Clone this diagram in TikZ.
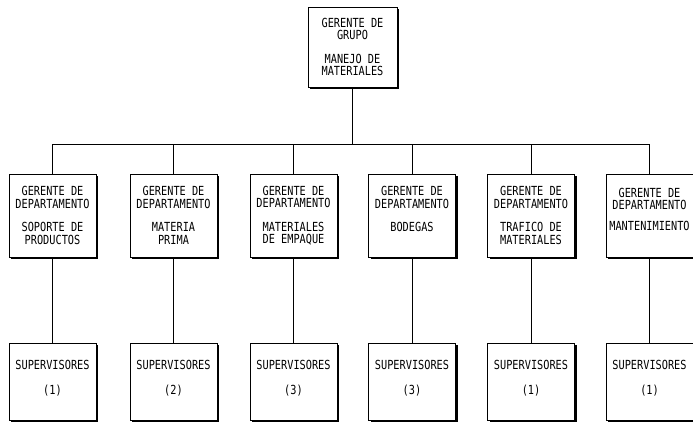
\documentclass[tikz,border=0pt]{standalone}
\usepackage{fontspec}
\newfontfamily\dotfont[FakeStretch=0.82]{DejaVu Sans Mono}
\usetikzlibrary{shadows}
\begin{document}
\begin{tikzpicture}[x=1pt,y=-1pt,
  box/.style={draw, line width=1pt, fill=white, inner sep=0pt, align=center,
    font=\dotfont\fontsize{12.5}{12.5}\selectfont,
    drop shadow={shadow xshift=2pt, shadow yshift=-2pt, opacity=1, fill=black}},
  topbox/.style={box, minimum width=89pt, minimum height=80pt},
  deptbox/.style={box, minimum width=87pt, minimum height=83pt},
  supbox/.style={box, minimum width=87pt, minimum height=77pt},
  link/.style={line width=0.9pt}]
\useasboundingbox (0,0) rectangle (693,423);
\node[topbox] (top) at (352.5,47) {GERENTE DE\\GRUPO\\[11pt]MANEJO DE\\MATERIALES};
\coordinate (bus) at (352.5,144);
\node[deptbox] (d1) at (52.5,215.5) {GERENTE DE\\DEPARTAMENTO\\[11pt]SOPORTE DE\\PRODUCTOS};
\node[deptbox] (d2) at (173.5,215.5) {GERENTE DE\\DEPARTAMENTO\\[11pt]MATERIA\\PRIMA};
\node[deptbox] (d3) at (293.5,215.5) {GERENTE DE\\DEPARTAMENTO\\[11pt]MATERIALES\\DE EMPAQUE};
\node[deptbox] (d4) at (412,215.5) {GERENTE DE\\DEPARTAMENTO\\[11pt]BODEGAS\\\mbox{}};
\node[deptbox] (d5) at (531,215.5) {GERENTE DE\\DEPARTAMENTO\\[11pt]TRAFICO DE\\MATERIALES};
\node[deptbox] (d6) at (649.5,215.5) {GERENTE DE\\DEPARTAMENTO\\[8pt]MANTENIMIENTO\\\mbox{}};
\node[supbox] (s1) at (52.5,381.5) {SUPERVISORES\\[12pt](1)\\[-4pt]\mbox{}};
\node[supbox] (s2) at (173.5,381.5) {SUPERVISORES\\[12pt](2)\\[-4pt]\mbox{}};
\node[supbox] (s3) at (293.5,381.5) {SUPERVISORES\\[12pt](3)\\[-4pt]\mbox{}};
\node[supbox] (s4) at (412,381.5) {SUPERVISORES\\[12pt](3)\\[-4pt]\mbox{}};
\node[supbox] (s5) at (531,381.5) {SUPERVISORES\\[12pt](1)\\[-4pt]\mbox{}};
\node[supbox] (s6) at (649.5,381.5) {SUPERVISORES\\[12pt](1)\\[-4pt]\mbox{}};
\draw[link] (top.south) -- (bus);
\foreach \i in {1,...,6}{
  \draw[link] (bus) -| (d\i.north);
  \draw[link] (d\i.south) -- (s\i.north);
}
\end{tikzpicture}
\end{document}
